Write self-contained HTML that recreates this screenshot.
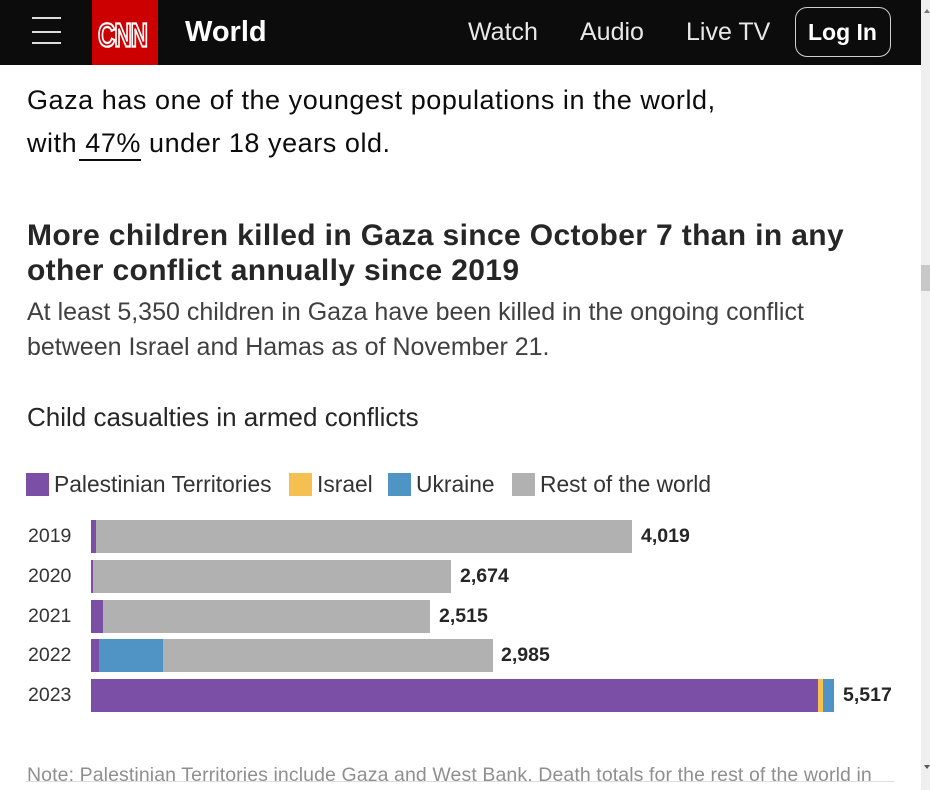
<!DOCTYPE html>
<html>
<head>
<meta charset="utf-8">
<style>
  html,body{margin:0;padding:0;}
  body{width:930px;height:790px;position:relative;overflow:hidden;background:#fff;font-family:"Liberation Sans",Arial,sans-serif;}
  .a{position:absolute;white-space:nowrap;line-height:1;}
  .nav{position:absolute;left:0;top:0;width:921px;height:65px;background:#0c0c0c;}
  .hb{position:absolute;left:32px;width:29px;height:2px;background:#dcdcdc;}
  .logo{position:absolute;left:92px;top:0;width:66px;height:65px;background:#cc0000;overflow:hidden;}
  .navt{color:#e8e8e8;font-size:25px;}
  .login{position:absolute;left:795px;top:7px;width:96px;height:50px;border:1.5px solid #cfcfcf;border-radius:12px;box-sizing:border-box;}
  .sb{position:absolute;left:921px;top:0;width:9px;height:790px;background:#efefef;}
  .thumb{position:absolute;left:921px;top:265px;width:9px;height:26px;background:#c8c8c8;}
  .bar{position:absolute;height:33px;}
  .p{background:#7b4fa5;}
  .g{background:#b1b1b1;}
  .u{background:#4f94c4;}
  .y{background:#f6bf52;}
  .yr{font-size:19.5px;color:#333;left:28px;}
  .val{font-size:19.5px;font-weight:bold;color:#262626;}
  .sw{position:absolute;top:473px;width:23px;height:23px;}
  .lg{font-size:22.8px;color:#333;top:473px;}
</style>
</head>
<body>
  <div class="nav">
    <div class="hb" style="top:17px"></div>
    <div class="hb" style="top:31px"></div>
    <div class="hb" style="top:42px"></div>
    <div class="logo">
      <div class="a" style="left:6px;top:20px;font-size:24px;font-weight:bold;color:#cc0000;-webkit-text-stroke:1.6px #fff;letter-spacing:-1px;transform:scaleY(1.4);transform-origin:0 0;">CNN</div>
    </div>
    <div class="a" style="left:185px;top:17.8px;font-size:29px;font-weight:bold;color:#fff;">World</div>
    <div class="a navt" style="left:468px;top:19.8px;">Watch</div>
    <div class="a navt" style="left:580px;top:19.8px;">Audio</div>
    <div class="a navt" style="left:686px;top:19.8px;">Live TV</div>
    <div class="login"></div>
    <div class="a" style="left:808px;top:20.8px;font-size:23px;font-weight:bold;color:#fff;">Log In</div>
  </div>

  <div class="sb"></div>
  <div class="thumb"></div>
  <div class="a" style="left:924px;top:9px;width:0;height:0;border-left:3px solid transparent;border-right:3px solid transparent;border-bottom:4px solid #777;"></div>
  <div class="a" style="left:924px;top:765px;width:0;height:0;border-left:3px solid transparent;border-right:3px solid transparent;border-top:4px solid #555;"></div>

  <div class="a" style="left:27px;top:87.3px;font-size:27px;letter-spacing:0.55px;color:#0c0c0c;">Gaza has one of the youngest populations in the world,</div>
  <div class="a" style="left:27px;top:130.3px;font-size:27px;letter-spacing:0.55px;color:#0c0c0c;">with 47% under 18 years old.</div>
  <div class="a" style="left:79px;top:159px;width:62px;height:1.5px;background:#0c0c0c;"></div>

  <div class="a" style="left:27px;top:221px;font-size:30px;font-weight:bold;letter-spacing:0.36px;color:#262626;">More children killed in Gaza since October 7 than in any</div>
  <div class="a" style="left:27px;top:256px;font-size:30px;font-weight:bold;letter-spacing:0.36px;color:#262626;">other conflict annually since 2019</div>

  <div class="a" style="left:27px;top:300.3px;font-size:25px;color:#404040;">At least 5,350 children in Gaza have been killed in the ongoing conflict</div>
  <div class="a" style="left:27px;top:335.3px;font-size:25px;color:#404040;">between Israel and Hamas as of November 21.</div>

  <div class="a" style="left:27px;top:403.8px;font-size:26px;color:#262626;">Child casualties in armed conflicts</div>

  <div class="sw p" style="left:26px;"></div>
  <div class="a lg" style="left:54px;">Palestinian Territories</div>
  <div class="sw y" style="left:289px;"></div>
  <div class="a lg" style="left:317px;">Israel</div>
  <div class="sw u" style="left:388px;"></div>
  <div class="a lg" style="left:416px;">Ukraine</div>
  <div class="sw g" style="left:512px;"></div>
  <div class="a lg" style="left:540px;">Rest of the world</div>

  <!-- 2019 -->
  <div class="a yr" style="top:527px;">2019</div>
  <div class="bar p" style="left:91px;top:520px;width:5px;"></div>
  <div class="bar g" style="left:96px;top:520px;width:536px;"></div>
  <div class="a val" style="left:641px;top:527px;">4,019</div>
  <!-- 2020 -->
  <div class="a yr" style="top:567px;">2020</div>
  <div class="bar p" style="left:91px;top:560px;width:2px;"></div>
  <div class="bar g" style="left:93px;top:560px;width:358px;"></div>
  <div class="a val" style="left:460px;top:567px;">2,674</div>
  <!-- 2021 -->
  <div class="a yr" style="top:607px;">2021</div>
  <div class="bar p" style="left:91px;top:600px;width:12px;"></div>
  <div class="bar g" style="left:103px;top:600px;width:327px;"></div>
  <div class="a val" style="left:439px;top:607px;">2,515</div>
  <!-- 2022 -->
  <div class="a yr" style="top:646px;">2022</div>
  <div class="bar p" style="left:91px;top:639px;width:8px;"></div>
  <div class="bar u" style="left:99px;top:639px;width:64px;"></div>
  <div class="bar g" style="left:163px;top:639px;width:330px;"></div>
  <div class="a val" style="left:501px;top:646px;">2,985</div>
  <!-- 2023 -->
  <div class="a yr" style="top:686px;">2023</div>
  <div class="bar p" style="left:91px;top:679px;width:727px;"></div>
  <div class="bar y" style="left:818px;top:679px;width:5px;"></div>
  <div class="bar u" style="left:823px;top:679px;width:11px;"></div>
  <div class="a val" style="left:843px;top:686px;">5,517</div>

  <div style="position:absolute;left:26px;top:760px;width:868px;height:21px;overflow:hidden;border-bottom:1px solid #dedede;">
    <div class="a" style="left:1px;top:5.5px;font-size:19.5px;letter-spacing:0.1px;color:#8f8f8f;">Note: Palestinian Territories include Gaza and West Bank. Death totals for the rest of the world in</div>
  </div>
</body>
</html>
